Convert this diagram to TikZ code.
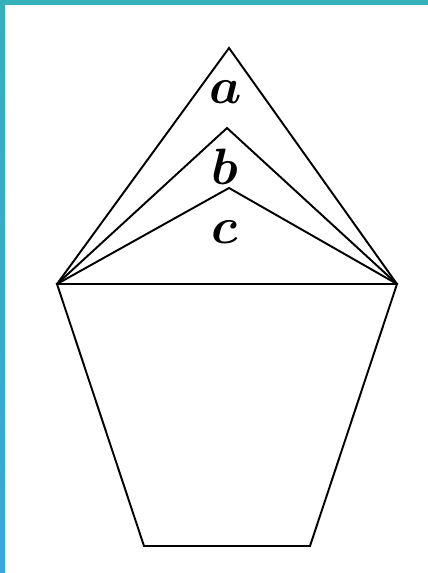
\documentclass[tikz,border=0pt]{standalone}
\usepackage{amsmath,amssymb}
\usepackage{xcolor}
\definecolor{frameteal}{RGB}{52, 177, 185}
\definecolor{frameblue}{RGB}{56, 168, 214}
\usetikzlibrary{calc,positioning}

\tikzset{
    edge/.style={line width=1.1pt, line join=miter},
    lab/.style={inner sep=0pt, font=\Huge, scale=1.17}
}

\begin{document}
\begin{tikzpicture}[x=0.02cm, y=-0.02cm]
    % Frame
    \useasboundingbox (0,0) rectangle (428,573);
    \fill[frameteal] (0,0) rectangle (428,5);
    \shade[top color=frameteal, bottom color=frameblue] (0,0) rectangle (5,573);

    % Vertices
    \coordinate (L) at (57,284);
    \coordinate (R) at (397,284);
    \coordinate (A) at (229,48);
    \coordinate (B) at (227,128);
    \coordinate (C) at (229,188);
    \coordinate (BL) at (144,546);
    \coordinate (BR) at (310,546);

    % Roof triangles
    \draw[edge] (L) -- (A) -- (R);
    \draw[edge] (L) -- (B) -- (R);
    \draw[edge] (L) -- (C) -- (R);

    % Base trapezoid
    \draw[edge] (L) -- (R) -- (BR) -- (BL) -- cycle;

    % Labels
    \node[lab] (la) at (226,92) {$\boldsymbol{a}$};
    \node[lab] (lb) at (225,167) {$\boldsymbol{b}$};
    \node[lab] (lc) at (225,232) {$\boldsymbol{c}$};
\end{tikzpicture}
\end{document}
